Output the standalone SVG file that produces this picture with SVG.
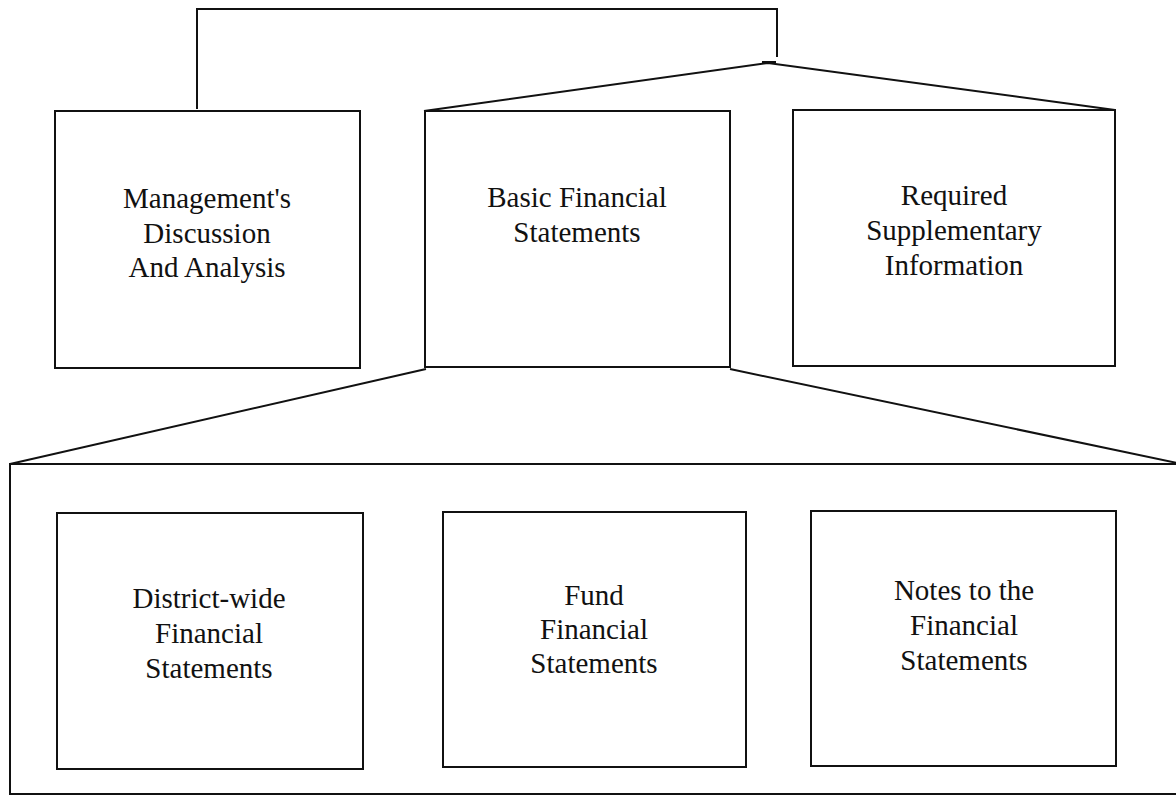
<svg xmlns="http://www.w3.org/2000/svg" width="1176" height="796" viewBox="0 0 1176 796">
<style>
.box{fill:none;stroke:#111;stroke-width:2}
.ln{fill:none;stroke:#111;stroke-width:2;stroke-linejoin:miter}
.t{font-family:"Liberation Serif","Times New Roman",serif;font-size:29px;fill:#111;text-anchor:middle}
</style>
<rect width="1176" height="796" fill="#fff"/>
<g id="connectors">
<polyline class="ln" points="197,109 197,9 777,9 777,57"/>
<line class="ln" x1="762" y1="62" x2="776" y2="62"/>
<polyline class="ln" points="424,111 768,63 1115,110"/>
<line class="ln" x1="426" y1="369" x2="10" y2="464"/>
<line class="ln" x1="730" y1="369" x2="1177" y2="463"/>
</g>
<g id="frame">
<rect class="box" x="10" y="464" width="1180" height="330"/>
</g>
<g id="mda">
<rect class="box" x="55" y="111" width="305" height="257"/>
<text class="t" x="207" y="208">Management's</text>
<text class="t" x="207" y="243">Discussion</text>
<text class="t" x="207" y="277">And Analysis</text>
</g>
<g id="basic">
<rect class="box" x="425" y="111" width="305" height="256"/>
<text class="t" x="577" y="207">Basic Financial</text>
<text class="t" x="577" y="242">Statements</text>
</g>
<g id="rsi">
<rect class="box" x="793" y="110" width="322" height="256"/>
<text class="t" x="954" y="205">Required</text>
<text class="t" x="954" y="240">Supplementary</text>
<text class="t" x="954" y="275">Information</text>
</g>
<g id="district">
<rect class="box" x="57" y="513" width="306" height="256"/>
<text class="t" x="209" y="608">District-wide</text>
<text class="t" x="209" y="643">Financial</text>
<text class="t" x="209" y="678">Statements</text>
</g>
<g id="fund">
<rect class="box" x="443" y="512" width="303" height="255"/>
<text class="t" x="594" y="605">Fund</text>
<text class="t" x="594" y="639">Financial</text>
<text class="t" x="594" y="673">Statements</text>
</g>
<g id="notes">
<rect class="box" x="811" y="511" width="305" height="255"/>
<text class="t" x="964" y="600">Notes to the</text>
<text class="t" x="964" y="635">Financial</text>
<text class="t" x="964" y="670">Statements</text>
</g>
</svg>
